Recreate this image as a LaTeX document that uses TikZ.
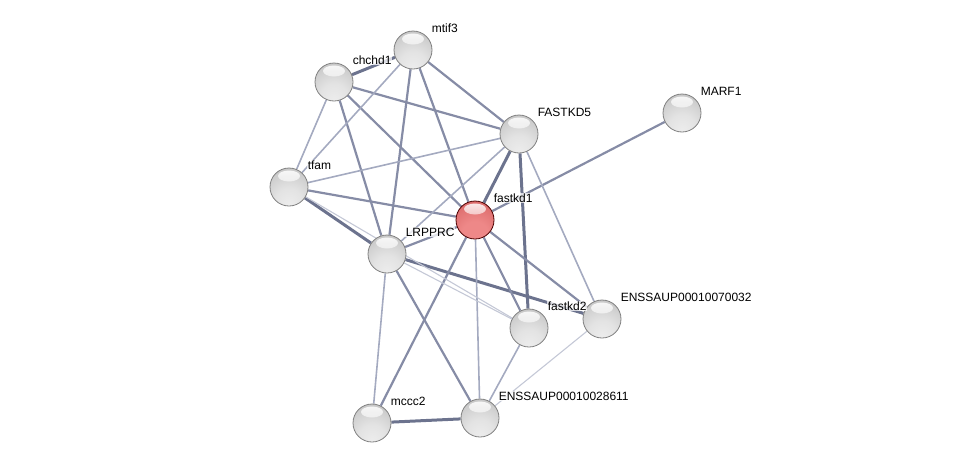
\documentclass[tikz,border=0pt]{standalone}
\usepackage{fontspec}
\setmainfont{Liberation Sans}
\usetikzlibrary{calc,backgrounds,fadings}

\definecolor{linkdark}{RGB}{108,115,142}
\definecolor{linkmid}{RGB}{134,140,166}
\definecolor{linklight}{RGB}{164,170,192}
\definecolor{linkfaint}{RGB}{196,200,214}
\definecolor{redlow}{RGB}{238,136,136}
\definecolor{redmid}{RGB}{214,98,98}
\definecolor{redtop}{RGB}{178,54,54}

\pgfdeclareradialshading{greyball}{\pgfpoint{0bp}{-25bp}}{%
  color(0bp)=(black!7); color(18bp)=(black!11); color(45bp)=(black!25);
  color(75bp)=(black!36); color(85bp)=(black!36)}
\pgfdeclareradialshading{redball}{\pgfpoint{0bp}{-25bp}}{%
  color(0bp)=(redlow); color(18bp)=(redlow); color(45bp)=(redmid);
  color(75bp)=(redtop); color(85bp)=(redtop)}

\begin{document}
\begin{tikzpicture}[x=1pt,y=-1pt,
  prot/.style={circle,minimum size=38pt,inner sep=0pt,shading=greyball,draw=black!50,line width=0.8pt,
    path picture={\fill [white,path fading=south,fill opacity=0.9]
      ($(path picture bounding box.center)+(0,-11)$) ellipse (11 and 5.5);}},
  query/.style={prot,shading=redball,draw=red!30!black},
  tag/.style={anchor=base west,font=\fontsize{12}{14}\selectfont,fill=white,fill opacity=0.75,text opacity=1,inner sep=0.6pt},
  strong/.style={draw=linkdark,line width=3pt},
  medium/.style={draw=linkmid,line width=2.2pt},
  weak/.style={draw=linklight,line width=1.6pt},
  faint/.style={draw=linkfaint,line width=1.1pt},
  ]
  \useasboundingbox (0,0) rectangle (975,469);

  % proteins
  \node [prot]  (mtif3)   at (413,50)  {};
  \node [prot]  (chchd1)  at (334,82)  {};
  \node [prot]  (FASTKD5) at (519,134) {};
  \node [prot]  (MARF1)   at (682,113) {};
  \node [prot]  (tfam)    at (289,187) {};
  \node [query] (fastkd1) at (475,220) {};
  \node [prot]  (LRPPRC)  at (387,254) {};
  \node [prot]  (fastkd2) at (529,328) {};
  \node [prot]  (ens70032) at (602,319) {};
  \node [prot]  (mccc2)   at (372,423) {};
  \node [prot]  (ens28611) at (480,418) {};

  % associations
  \begin{scope}[on background layer]
    \draw [strong] (chchd1) -- (mtif3);
    \draw [strong] (mccc2) -- (ens28611);
    \draw [strong] (FASTKD5) -- (fastkd1);
    \draw [strong] (FASTKD5) -- (fastkd2);
    \draw [strong] (tfam) -- (LRPPRC);
    \draw [strong] (LRPPRC) -- (ens70032);

    \draw [medium] (mtif3) -- (FASTKD5);
    \draw [medium] (mtif3) -- (LRPPRC);
    \draw [medium] (mtif3) -- (fastkd1);
    \draw [medium] (chchd1) -- (LRPPRC);
    \draw [medium] (chchd1) -- (fastkd1);
    \draw [medium] (chchd1) -- (FASTKD5);
    \draw [medium] (tfam) -- (fastkd1);
    \draw [medium] (fastkd1) -- (MARF1);
    \draw [medium] (fastkd1) -- (LRPPRC);
    \draw [medium] (fastkd1) -- (mccc2);
    \draw [medium] (fastkd1) -- (fastkd2);
    \draw [medium] (fastkd1) -- (ens70032);
    \draw [medium] (LRPPRC) -- (ens28611);

    \draw [weak] (mtif3) -- (tfam);
    \draw [weak] (chchd1) -- (tfam);
    \draw [weak] (tfam) -- (FASTKD5);
    \draw [weak] (FASTKD5) -- (LRPPRC);
    \draw [weak] (FASTKD5) -- (ens70032);
    \draw [weak] (fastkd1) -- (ens28611);
    \draw [weak] (LRPPRC) -- (mccc2);
    \draw [weak] (fastkd2) -- (ens28611);
    \draw [faint] (LRPPRC) -- (fastkd2);
    \draw [faint] (tfam) -- (fastkd2);
    \draw [faint] (ens70032) -- (ens28611);
  \end{scope}

  % names
  \node [tag] (mtif3-tag)    at ($(mtif3)+(18,-18)$)    {mtif3};
  \node [tag] (chchd1-tag)   at ($(chchd1)+(18,-18)$)   {chchd1};
  \node [tag] (FASTKD5-tag)  at ($(FASTKD5)+(18,-18)$)  {FASTKD5};
  \node [tag] (MARF1-tag)    at ($(MARF1)+(18,-18)$)    {MARF1};
  \node [tag] (tfam-tag)     at ($(tfam)+(18,-18)$)     {tfam};
  \node [tag] (fastkd1-tag)  at ($(fastkd1)+(18,-18)$)  {fastkd1};
  \node [tag] (LRPPRC-tag)   at ($(LRPPRC)+(18,-18)$)   {LRPPRC};
  \node [tag] (fastkd2-tag)  at ($(fastkd2)+(18,-18)$)  {fastkd2};
  \node [tag] (ens70032-tag) at ($(ens70032)+(18,-18)$) {ENSSAUP00010070032};
  \node [tag] (mccc2-tag)    at ($(mccc2)+(18,-18)$)    {mccc2};
  \node [tag] (ens28611-tag) at ($(ens28611)+(18,-18)$) {ENSSAUP00010028611};
\end{tikzpicture}
\end{document}
